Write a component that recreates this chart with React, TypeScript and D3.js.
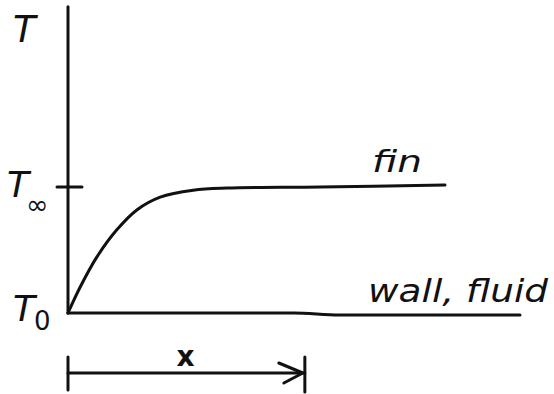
import React from 'react';
import * as d3 from 'd3';

// fin temperature profile, sketched: T rises from T0 at the wall to T_inf
const finX = [0, 0.27, 0.64, 1.08, 1.53, 2.04, 2.77, 3.52, 5.58, 8.34];
const finT = [0, 0.206, 0.445, 0.66, 0.82, 0.92, 0.975, 0.992, 1.0, 1.015];

// wall / fluid line stays at T0
const wallX = [0, 5, 6, 10];
const wallT = [0, 0, -0.015, -0.015];

const tickValues = [1, 0];
const tickSubs = ['\u221E', '0'];
const seriesLabels = ['fin', 'wall, fluid'];
const arrowSpan = [0, 5.24];

const W = 554;
const H = 394;
const ink = '#111';
const font = '"DejaVu Sans", sans-serif';

const App = () => {
  const x = d3.scaleLinear().domain([0, 10]).range([68, 520]);
  const y = d3.scaleLinear().domain([0, 1]).range([313, 187]);

  const finPath = d3
    .line<[number, number]>()
    .x(d => x(d[0]))
    .y(d => y(d[1]))
    .curve(d3.curveCatmullRom.alpha(0.5))(finX.map((v, i) => [v, finT[i]]));

  const wallPath = d3
    .line<[number, number]>()
    .x(d => x(d[0]))
    .y(d => y(d[1]))
    .curve(d3.curveMonotoneX)(wallX.map((v, i) => [v, wallT[i]]));

  const yTop = y(2.43);
  const ay = 373;
  const a0 = x(arrowSpan[0]);
  const a1 = x(arrowSpan[1]);

  return (
    <svg
      width={W}
      height={H}
      style={{ position: 'fixed', left: 0, top: 0, background: '#fff' }}
    >
      <g stroke={ink} strokeWidth={3} fill="none" strokeLinecap="round" strokeLinejoin="round">
        {/* T axis */}
        <line x1={x(0)} y1={yTop} x2={x(0)} y2={y(0)} />
        {/* tick at T_inf */}
        <line x1={x(0) - 11} y1={y(1)} x2={x(0) + 14} y2={y(1)} />
        <path d={wallPath || ''} />
        <path d={finPath || ''} />
        {/* x dimension arrow */}
        <line x1={a0} y1={ay - 16} x2={a0} y2={ay + 17} />
        <line x1={a1} y1={ay - 16} x2={a1} y2={ay + 19} />
        <line x1={a0} y1={ay} x2={a1} y2={ay} />
        <path d={`M${a1 - 26},${ay - 10} L${a1 - 2},${ay} L${a1 - 21},${ay + 10}`} />
      </g>

      <g fill={ink} fontFamily={font} fontStyle="italic">
        <text x={13} y={42} fontSize={37}>T</text>
        {tickValues.map((v, i) => (
          <text key={i} x={v === 1 ? 7 : 13} y={y(v) + (v === 1 ? 10 : 8)} fontSize={36}>
            T
            <tspan
              dx={v === 1 ? -3 : -1}
              dy={v === 1 ? 17 : 9}
              fontSize={v === 1 ? 27 : 26}
              fontStyle="normal"
            >
              {tickSubs[i]}
            </tspan>
          </text>
        ))}
        <text x={372} y={y(1) - 15} fontSize={30} textLength={50} lengthAdjust="spacingAndGlyphs">
          {seriesLabels[0]}
        </text>
        <text x={368} y={y(0) - 11} fontSize={32} textLength={180} lengthAdjust="spacingAndGlyphs">
          {seriesLabels[1]}
        </text>
        <text x={x(arrowSpan[1] / 2) - 10} y={ay - 7} fontSize={28} fontWeight="bold" fontStyle="normal">x</text>
      </g>
    </svg>
  );
};

export default App;
